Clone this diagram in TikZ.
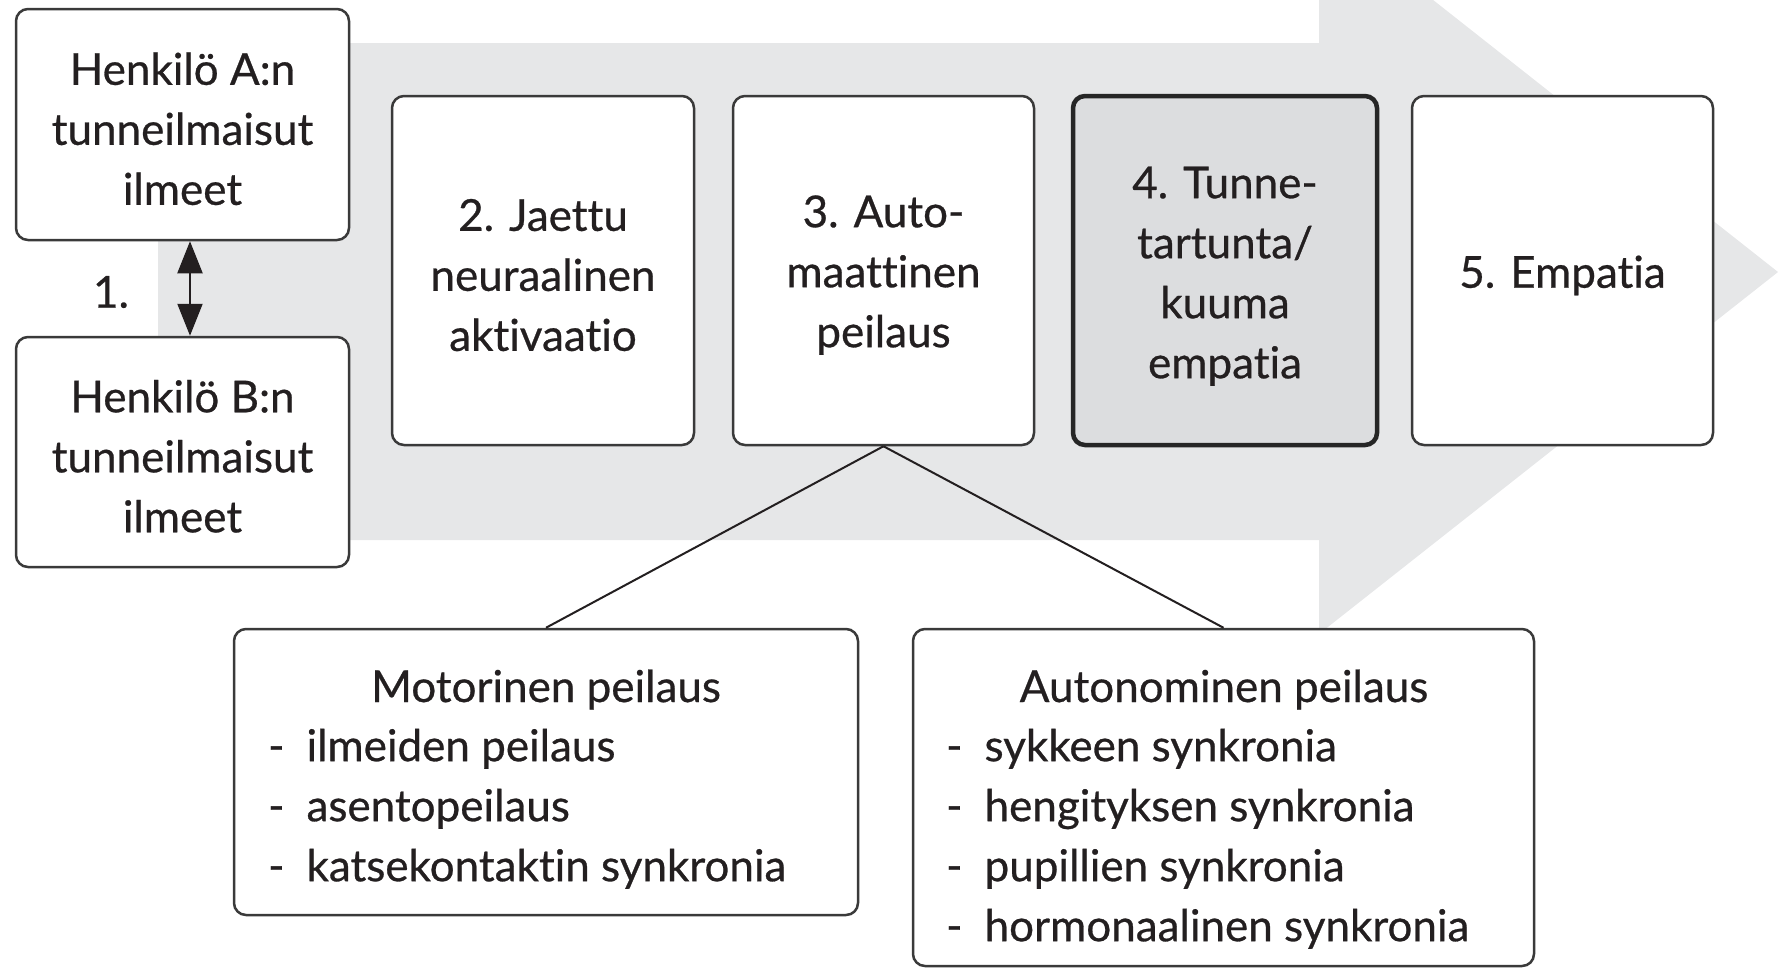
\documentclass[tikz,border=0pt]{standalone}
\usepackage{fontspec}
\setmainfont{Lato}[Ligatures=NoCommon, FakeBold=0.6]
\usetikzlibrary{arrows.meta}
\definecolor{arrowgray}{HTML}{E6E7E8}
\definecolor{boxgray}{HTML}{DCDDDF}
\definecolor{ink}{HTML}{231F20}
\definecolor{edgec}{HTML}{3A3A3A}
\newcommand\myTopStrut{\rule{0pt}{41pt}}
\begin{document}
\begin{tikzpicture}[x=1pt,y=-1pt,
  txt/.style={text=ink, font=\fontsize{44}{60}\selectfont},
  stepbox/.style={txt, draw=edgec, line width=2.5pt, rounded corners=12pt, fill=white, inner sep=0pt, align=center},
  hotbox/.style={stepbox, draw=black!85, line width=4.5pt, fill=boxgray},
  listbox/.style={draw=edgec, line width=2.5pt, rounded corners=12pt, fill=white, inner sep=0pt},
  listtxt/.style={txt, inner sep=0pt, align=left, anchor=north west},
  conn/.style={draw=ink, line width=2pt}
]
\useasboundingbox (0,0) rectangle (1778,970);
\clip (0,0) rectangle (1778,970);
% big background arrow
\fill[arrowgray] (158,43) -- (1319,43) -- (1319,-90) -- (1778,272) -- (1319,634) -- (1319,540) -- (158,540) -- cycle;

\node[stepbox, minimum width=333pt, minimum height=231pt] (A) at (182.5,124.5) {\myTopStrut Henkilö A:n\\tunneilmaisut\\ilmeet};
\node[stepbox, minimum width=333pt, minimum height=230pt] (B) at (182.5,452) {\myTopStrut Henkilö B:n\\tunneilmaisut\\ilmeet};
\coordinate (ax) at (190,290);
\draw[line width=2pt, draw=ink, {Triangle[length=32pt,width=25pt]}-{Triangle[length=32pt,width=25pt]}] (A.south -| ax) -- (B.north -| ax);
\node[txt] (one) at (111,292) {1.};

\node[stepbox, minimum width=302pt, minimum height=349pt] (s2) at (543,270.5) {\myTopStrut 2. Jaettu\\neuraalinen\\aktivaatio};
\node[stepbox, minimum width=301pt, minimum height=349pt] (s3) at (883.5,270.5) {\myTopStrut 3. Auto-\\maattinen\\peilaus};
\node[hotbox, minimum width=304pt, minimum height=349pt] (s4) at (1225,270.5) {\rule{0pt}{43pt}4. Tunne-\\tartunta/\\kuuma\\empatia};
\node[stepbox, minimum width=301pt, minimum height=349pt] (s5) at (1562.5,270.5) {\rule{0pt}{42pt}5. Empatia};

\node[listbox, minimum width=624pt, minimum height=286pt] (mot) at (546,772) {};
\node[listbox, minimum width=621pt, minimum height=337pt] (aut) at (1223.5,797.5) {};

\draw[conn] (s3.south) -- (mot.north);
\draw[conn] (s3.south) -- (aut.north);

\node[txt, anchor=base] (motT) at (546,702) {Motorinen peilaus};
\node[listtxt] (motL) at (268,719) {\begin{tabular}{@{}l@{\hspace{22pt}}l@{}}
-& ilmeiden peilaus\\
-& asentopeilaus\\
-& katsekontaktin synkronia
\end{tabular}};

\node[txt, anchor=base] (autT) at (1224,702) {Autonominen peilaus};
\node[listtxt] (autL) at (946,719) {\begin{tabular}{@{}l@{\hspace{22pt}}l@{}}
-& sykkeen synkronia\\
-& hengityksen synkronia\\
-& pupillien synkronia\\
-& hormonaalinen synkronia
\end{tabular}};
\end{tikzpicture}
\end{document}
